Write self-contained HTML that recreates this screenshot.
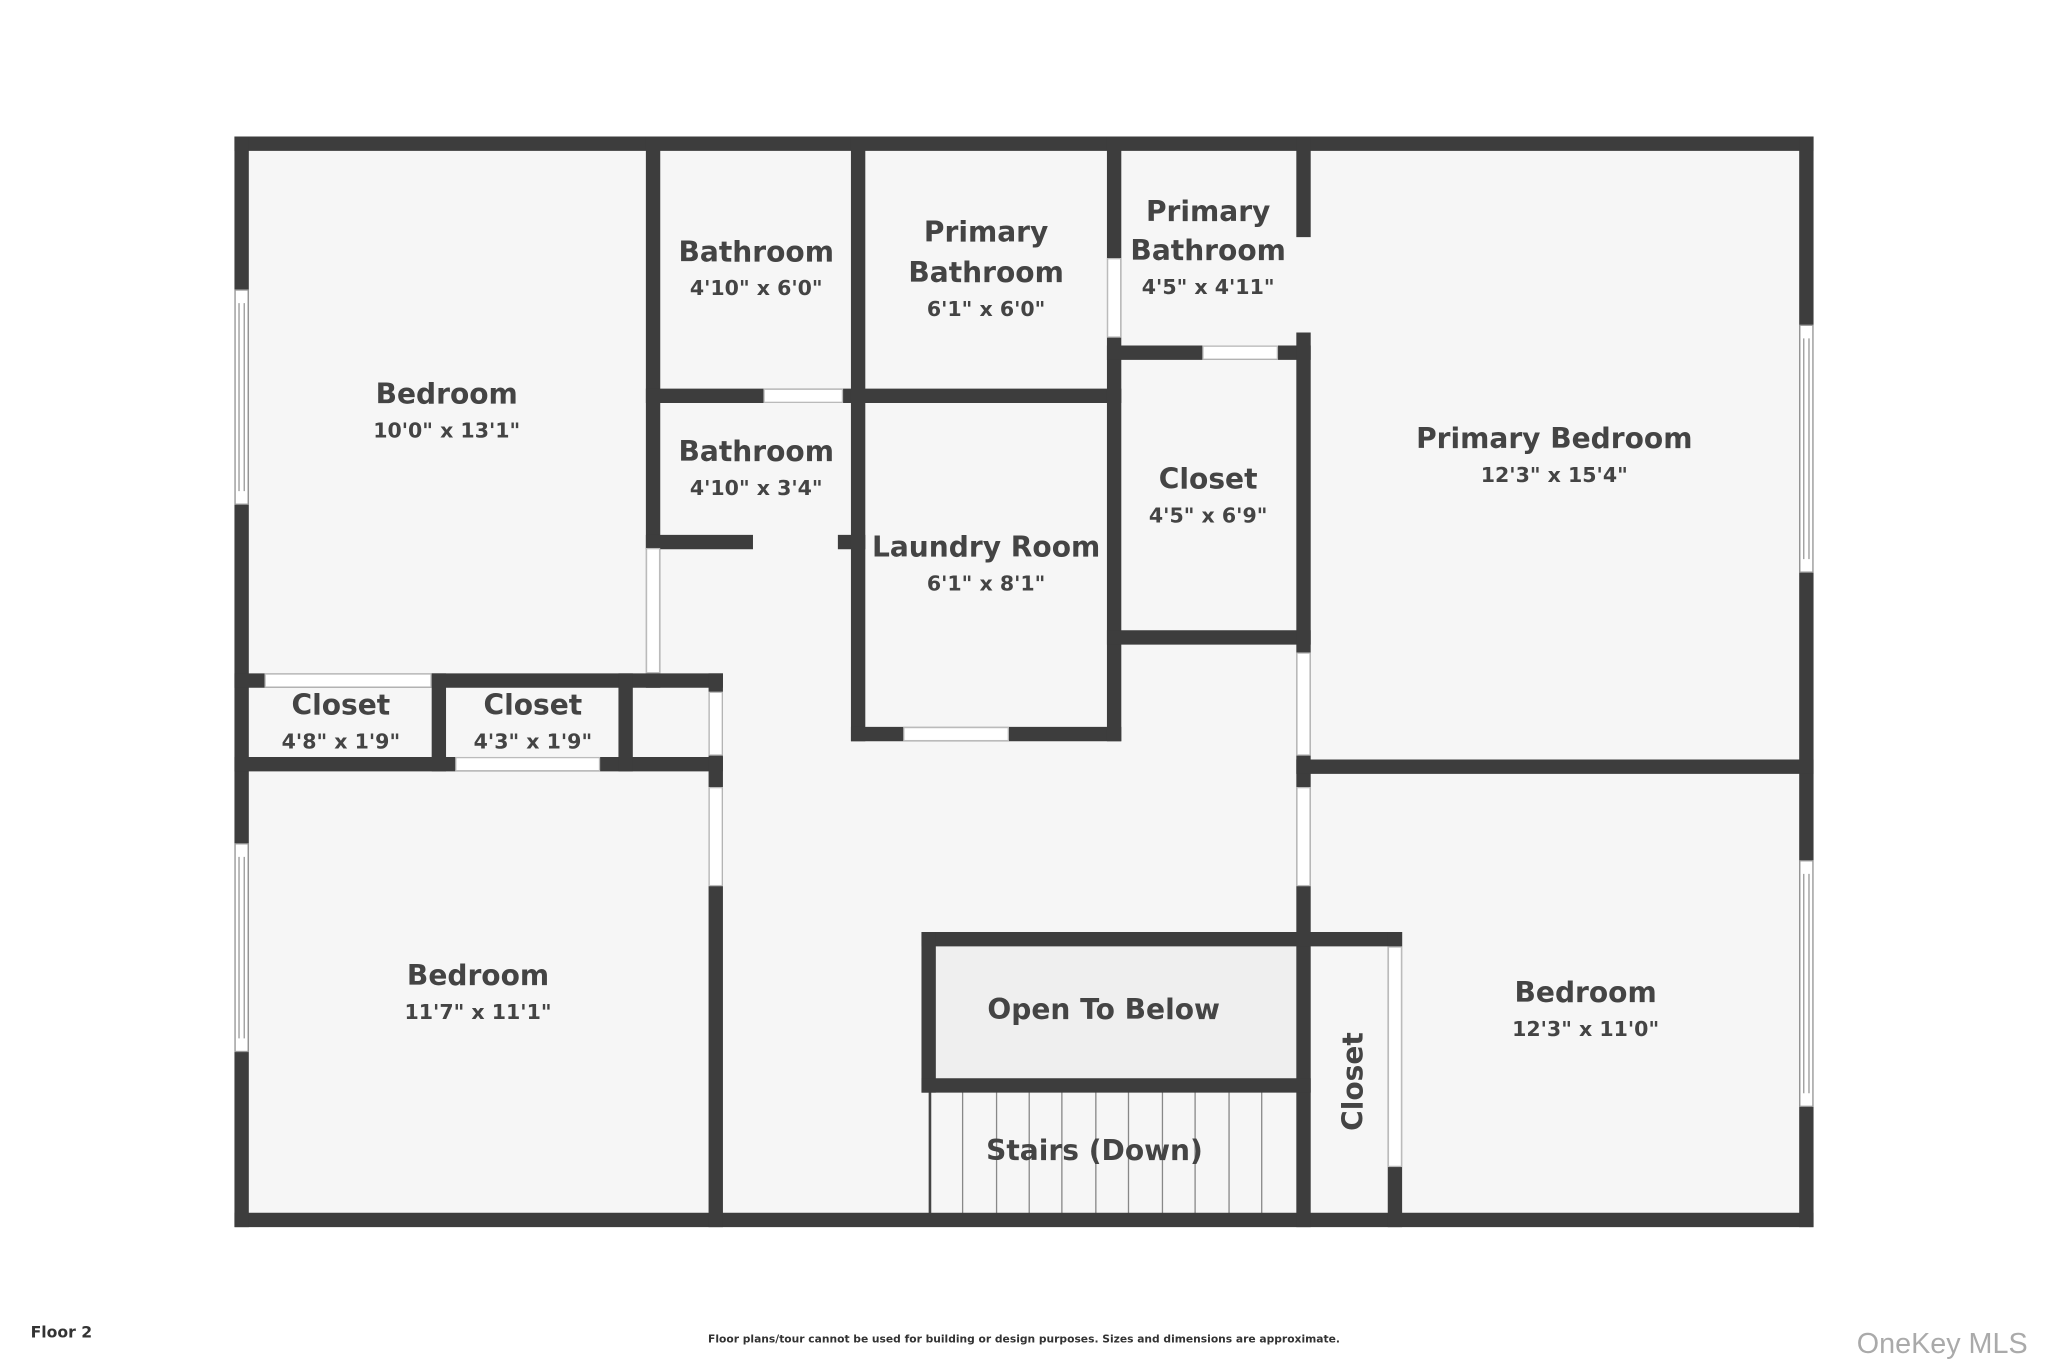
<!DOCTYPE html>
<html><head><meta charset="utf-8"><style>
html,body{margin:0;padding:0;background:#fff;}
svg{display:block;}
text{font-family:"DejaVu Sans","Liberation Sans",sans-serif;font-weight:bold;fill:#444;text-anchor:middle;}
.n{font-size:21.5px;}
.d{font-size:15.7px;}
</style></head><body>
<svg width="2048" height="1365" viewBox="0 0 1568 1045" xmlns="http://www.w3.org/2000/svg">
<rect x="0" y="0" width="1568" height="1045" fill="#fff"/>
<rect x="185" y="110" width="1198" height="824" fill="#f6f6f6"/>
<rect x="711" y="719" width="287" height="112" fill="#efefef"/>
<g stroke="#888" stroke-width="1">
<line x1="712" y1="832" x2="712" y2="929" stroke="#444" stroke-width="2"/>
<line x1="737" y1="836" x2="737" y2="929"/><line x1="763" y1="836" x2="763" y2="929"/>
<line x1="788" y1="836" x2="788" y2="929"/><line x1="813" y1="836" x2="813" y2="929"/>
<line x1="839" y1="836" x2="839" y2="929"/><line x1="864" y1="836" x2="864" y2="929"/>
<line x1="890" y1="836" x2="890" y2="929"/><line x1="915" y1="836" x2="915" y2="929"/>
<line x1="941" y1="836" x2="941" y2="929"/><line x1="966" y1="836" x2="966" y2="929"/>
</g>
<g stroke="#3d3d3d" stroke-width="11" stroke-linecap="square" fill="none">
<line x1="185" y1="110" x2="1383" y2="110"/>
<line x1="185" y1="934" x2="1383" y2="934"/>
<line x1="185" y1="110" x2="185" y2="934"/>
<line x1="1383" y1="110" x2="1383" y2="934"/>
<line x1="500" y1="110" x2="500" y2="521"/>
<line x1="185" y1="521" x2="548" y2="521"/>
<line x1="500" y1="303" x2="853" y2="303"/>
<line x1="500" y1="415" x2="571" y2="415"/>
<line x1="647" y1="415" x2="657" y2="415"/>
<line x1="657" y1="110" x2="657" y2="562"/>
<line x1="657" y1="562" x2="853" y2="562"/>
<line x1="853" y1="110" x2="853" y2="562"/>
<line x1="853" y1="270" x2="998" y2="270"/>
<line x1="853" y1="488" x2="998" y2="488"/>
<line x1="998" y1="110" x2="998" y2="176"/>
<line x1="998" y1="260" x2="998" y2="934"/>
<line x1="998" y1="587" x2="1383" y2="587"/>
<line x1="185" y1="585" x2="548" y2="585"/>
<line x1="336" y1="521" x2="336" y2="585"/>
<line x1="479" y1="521" x2="479" y2="585"/>
<line x1="548" y1="521" x2="548" y2="934"/>
<line x1="711" y1="719" x2="1068" y2="719"/>
<line x1="711" y1="719" x2="711" y2="831"/>
<line x1="711" y1="831" x2="998" y2="831"/>
<line x1="1068" y1="719" x2="1068" y2="934"/>
</g>
<g fill="#fff" stroke="#bbb" stroke-width="1">
<rect x="495" y="420" width="10" height="95"/>
<rect x="203" y="516" width="127" height="10"/>
<rect x="585" y="298" width="60" height="10"/>
<rect x="692" y="557" width="80" height="10"/>
<rect x="848" y="198" width="10" height="60"/>
<rect x="921" y="265" width="57" height="10"/>
<rect x="993" y="500" width="10" height="78"/>
<rect x="993" y="603" width="10" height="75"/>
<rect x="349" y="580" width="110" height="10"/>
<rect x="543" y="530" width="10" height="48"/>
<rect x="543" y="603" width="10" height="75"/>
<rect x="1063" y="725" width="10" height="168"/>
</g>
<g fill="#fff" stroke="#999" stroke-width="1">
<rect x="180" y="222" width="10" height="164"/><line x1="183" y1="232" x2="183" y2="376"/><line x1="187" y1="232" x2="187" y2="376"/>
<rect x="180" y="646" width="10" height="159"/><line x1="183" y1="656" x2="183" y2="795"/><line x1="187" y1="656" x2="187" y2="795"/>
<rect x="1378" y="249" width="10" height="189"/><line x1="1381" y1="259" x2="1381" y2="428"/><line x1="1385" y1="259" x2="1385" y2="428"/>
<rect x="1378" y="659" width="10" height="188"/><line x1="1381" y1="669" x2="1381" y2="837"/><line x1="1385" y1="669" x2="1385" y2="837"/>
</g>
<text class="n" x="342" y="309">Bedroom</text><text class="d" x="342" y="335">10'0" x 13'1"</text>
<text class="n" x="579" y="200">Bathroom</text><text class="d" x="579" y="226">4'10" x 6'0"</text>
<text class="n" x="579" y="353">Bathroom</text><text class="d" x="579" y="379">4'10" x 3'4"</text>
<text class="n" x="755" y="185">Primary</text><text class="n" x="755" y="216">Bathroom</text><text class="d" x="755" y="242">6'1" x 6'0"</text>
<text class="n" x="925" y="169">Primary</text><text class="n" x="925" y="199">Bathroom</text><text class="d" x="925" y="225">4'5" x 4'11"</text>
<text class="n" x="925" y="374">Closet</text><text class="d" x="925" y="400">4'5" x 6'9"</text>
<text class="n" x="755" y="426">Laundry Room</text><text class="d" x="755" y="452">6'1" x 8'1"</text>
<text class="n" x="1190" y="343">Primary Bedroom</text><text class="d" x="1190" y="369">12'3" x 15'4"</text>
<text class="n" x="261" y="547">Closet</text><text class="d" x="261" y="573">4'8" x 1'9"</text>
<text class="n" x="408" y="547">Closet</text><text class="d" x="408" y="573">4'3" x 1'9"</text>
<text class="n" x="366" y="754">Bedroom</text><text class="d" x="366" y="780">11'7" x 11'1"</text>
<text class="n" x="845" y="780">Open To Below</text>
<text class="n" x="838" y="888">Stairs (Down)</text>
<text class="n" x="1214" y="767">Bedroom</text><text class="d" x="1214" y="793">12'3" x 11'0"</text>
<text class="n" transform="translate(1043,828) rotate(-90)">Closet</text>
<text x="47" y="1024" style="font-size:12px;fill:#333">Floor 2</text>
<text x="784" y="1028" style="font-size:8.2px;fill:#333">Floor plans/tour cannot be used for building or design purposes. Sizes and dimensions are approximate.</text>
<text x="1487" y="1036" style="font-size:22px;font-weight:normal;fill:#aaa;font-family:'Liberation Sans',sans-serif">OneKey MLS</text>
</svg>
</body></html>
